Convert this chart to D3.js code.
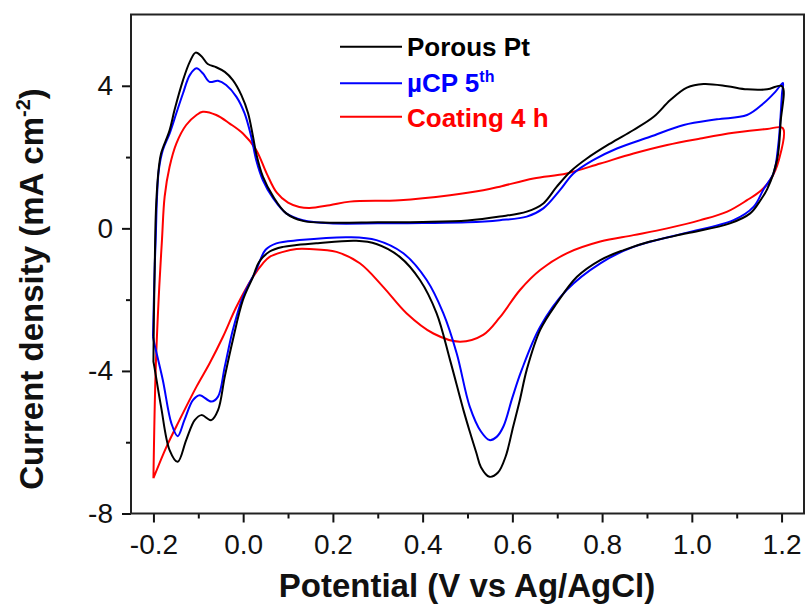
<!DOCTYPE html>
<html>
<head>
<meta charset="utf-8">
<script src="https://cdn.jsdelivr.net/npm/d3@7"></script>
<style>
  html, body { margin: 0; padding: 0; background: #fff; }
  svg { display: block; font-family: "Liberation Sans", Arial, sans-serif; }
</style>
</head>
<body>
<svg id="chart" width="807" height="615"></svg>
<script>
// ---------- DATA (Potential V vs Ag/AgCl, Current density mA cm^-2) ----------
const seriesNames = ["Porous Pt", "µCP 5th", "Coating 4 h"];
const seriesColors = ["#000000", "#0000ff", "#ff0000"];

const porousPt = [
  [-0.200,-3.74],[-0.199,-2.5],[-0.197,-1.0],[-0.195,0.3],[-0.192,1.1],[-0.188,1.7],[-0.183,2.10],
  [-0.164,2.75],[-0.153,3.32],[-0.134,4.16],[-0.119,4.67],[-0.106,4.93],[-0.093,4.83],[-0.079,4.61],
  [-0.060,4.52],[-0.041,4.39],[-0.023,4.16],[-0.004,3.74],[0.011,3.23],[0.022,2.57],[0.029,2.10],
  [0.044,1.45],[0.067,0.89],[0.096,0.42],[0.133,0.21],[0.193,0.16],[0.30,0.17],[0.40,0.18],
  [0.50,0.22],[0.572,0.33],[0.632,0.47],[0.669,0.70],[0.699,1.17],[0.729,1.59],[0.766,1.96],
  [0.818,2.38],[0.870,2.76],[0.915,3.13],[0.952,3.60],[0.989,3.95],[1.026,4.05],[1.079,3.99],
  [1.123,3.90],[1.168,3.90],[1.201,3.99],
  [1.198,3.0],[1.190,1.92],[1.168,1.10],[1.153,0.79],[1.130,0.42],[1.085,0.14],[0.989,-0.14],
  [0.907,-0.37],[0.848,-0.61],[0.796,-0.89],[0.744,-1.36],[0.699,-2.10],[0.662,-2.85],[0.632,-3.97],
  [0.617,-4.8],[0.602,-5.55],[0.585,-6.4],[0.568,-6.85],[0.549,-6.97],[0.530,-6.7],[0.520,-6.31],
  [0.505,-5.7],[0.491,-5.10],[0.461,-3.69],[0.431,-2.38],[0.394,-1.45],[0.349,-0.80],[0.297,-0.44],
  [0.252,-0.35],[0.163,-0.42],[0.119,-0.47],[0.089,-0.52],[0.059,-0.65],[0.035,-0.95],[0.022,-1.36],
  [-0.0005,-2.01],[-0.023,-3.13],[-0.041,-4.16],[-0.056,-5.10],[-0.071,-5.38],[-0.093,-5.24],
  [-0.108,-5.38],[-0.127,-5.94],[-0.146,-6.55],[-0.164,-6.22],[-0.183,-5.00],[-0.198,-3.88],[-0.200,-3.74]
];

const ucp5th = [
  [-0.201,-3.04],[-0.199,-2.0],[-0.197,-1.0],[-0.195,-0.33],[-0.192,0.89],[-0.188,1.64],[-0.179,2.20],
  [-0.164,2.66],[-0.149,3.23],[-0.134,3.79],[-0.119,4.30],[-0.104,4.49],[-0.090,4.35],[-0.075,4.11],
  [-0.056,4.14],[-0.038,4.02],[-0.015,3.69],[0.003,3.23],[0.018,2.57],[0.029,1.92],[0.044,1.35],
  [0.067,0.84],[0.096,0.42],[0.133,0.23],[0.193,0.14],[0.30,0.14],[0.40,0.15],[0.50,0.17],
  [0.572,0.23],[0.632,0.33],[0.669,0.56],[0.706,1.07],[0.736,1.54],[0.781,1.92],[0.833,2.24],
  [0.907,2.57],[0.982,2.90],[1.056,3.06],[1.123,3.18],[1.160,3.51],[1.186,3.83],[1.203,4.08],
  [1.201,3.79],[1.193,2.38],[1.182,1.54],[1.160,1.10],[1.138,0.61],[1.093,0.23],[0.982,-0.14],
  [0.870,-0.52],[0.796,-0.98],[0.721,-1.73],[0.662,-2.76],[0.620,-4.0],[0.600,-4.75],[0.580,-5.56],
  [0.565,-5.85],[0.549,-5.94],[0.530,-5.7],[0.505,-5.00],[0.476,-3.51],[0.446,-2.38],[0.409,-1.45],
  [0.357,-0.70],[0.297,-0.33],[0.238,-0.25],[0.126,-0.33],[0.074,-0.42],[0.050,-0.60],[0.029,-1.17],
  [-0.0005,-1.92],[-0.023,-2.85],[-0.041,-3.88],[-0.056,-4.72],[-0.071,-4.86],[-0.097,-4.68],
  [-0.112,-4.82],[-0.131,-5.38],[-0.146,-5.83],[-0.160,-5.47],[-0.179,-4.26],[-0.198,-3.23],[-0.201,-3.04]
];

const coating4h = [
  [-0.200,-7.01],[-0.195,-3.97],[-0.187,-1.64],[-0.181,-0.33],[-0.175,0.89],[-0.164,1.73],[-0.149,2.38],
  [-0.127,2.90],[-0.104,3.18],[-0.090,3.27],[-0.060,3.18],[-0.030,2.94],[-0.0005,2.66],[0.029,2.20],
  [0.052,1.55],[0.075,1.00],[0.100,0.72],[0.125,0.60],[0.148,0.57],[0.193,0.65],[0.238,0.75],
  [0.349,0.79],[0.461,0.93],[0.535,1.07],[0.572,1.17],[0.647,1.40],[0.721,1.54],[0.796,1.82],
  [0.870,2.10],[0.945,2.34],[1.019,2.52],[1.093,2.68],[1.168,2.79],[1.203,2.81],
  [1.194,1.92],[1.175,1.36],[1.153,1.05],[1.123,0.79],[1.079,0.47],[1.019,0.23],[0.945,0.0],
  [0.870,-0.19],[0.796,-0.37],[0.721,-0.70],[0.662,-1.17],[0.617,-1.73],[0.572,-2.50],[0.535,-2.99],
  [0.483,-3.18],[0.424,-2.95],[0.364,-2.38],[0.312,-1.64],[0.260,-0.98],[0.208,-0.66],[0.148,-0.58],
  [0.119,-0.58],[0.089,-0.66],[0.059,-0.80],[0.044,-0.98],[0.022,-1.36],[-0.015,-2.20],[-0.045,-3.04],
  [-0.075,-3.79],[-0.104,-4.44],[-0.142,-5.38],[-0.171,-6.13],[-0.200,-7.01]
];

const xTicks = [-0.2, 0.0, 0.2, 0.4, 0.6, 0.8, 1.0, 1.2];
const xMinorTicks = [-0.1, 0.1, 0.3, 0.5, 0.7, 0.9, 1.1];
const yTicks = [-8, -4, 0, 4];
const yMinorTicks = [-6, -2, 2];
const xDomain = [-0.25, 1.25];
const yDomain = [-8, 6];

// ---------- LAYOUT ----------
const svg = d3.select("#chart");
const plotLeft = 131, plotRight = 804, plotTop = 14.5, plotBottom = 513.5;

const x = d3.scaleLinear().domain(xDomain).range([plotLeft, plotRight]);
const y = d3.scaleLinear().domain(yDomain).range([plotBottom, plotTop]);

// curves
const line = d3.line()
  .x(d => x(d[0]))
  .y(d => y(d[1]))
  .curve(d3.curveCatmullRom.alpha(0.5));

const allSeries = [porousPt, ucp5th, coating4h];
[2, 1, 0].forEach(i => {
  svg.append("path")
    .datum(allSeries[i])
    .attr("d", line)
    .attr("fill", "none")
    .attr("stroke", seriesColors[i])
    .attr("stroke-width", 2)
    .attr("stroke-linejoin", "round");
});

// axes
const fmtX = d => d3.format(".1f")(d).replace("−", "-");
const xAxis = d3.axisBottom(x).tickValues(xTicks).tickFormat(fmtX)
  .tickSizeInner(9).tickSizeOuter(0).tickPadding(12);
const xAxisMinor = d3.axisBottom(x).tickValues(xMinorTicks).tickFormat("")
  .tickSizeInner(5).tickSizeOuter(0);
const yAxis = d3.axisLeft(y).tickValues(yTicks).tickFormat(d => String(d).replace("−", "-"))
  .tickSizeInner(9).tickSizeOuter(0).tickPadding(9);
const yAxisMinor = d3.axisLeft(y).tickValues(yMinorTicks).tickFormat("")
  .tickSizeInner(5).tickSizeOuter(0);

function styleAxis(g) {
  g.select(".domain").remove();
  g.selectAll(".tick line").attr("stroke", "#111").attr("stroke-width", 2);
  g.selectAll(".tick text").attr("fill", "#111")
    .style("font-size", "28px")
    .style("font-family", "'Liberation Sans', Arial, sans-serif");
}

svg.append("g").attr("transform", `translate(0,${plotBottom})`).call(xAxis).call(styleAxis);
svg.append("g").attr("transform", `translate(0,${plotBottom})`).call(xAxisMinor).call(styleAxis);
svg.append("g").attr("transform", `translate(${plotLeft},0)`).call(yAxis).call(styleAxis);
svg.append("g").attr("transform", `translate(${plotLeft},0)`).call(yAxisMinor).call(styleAxis);

// frame
svg.append("rect")
  .attr("x", plotLeft).attr("y", plotTop)
  .attr("width", plotRight - plotLeft).attr("height", plotBottom - plotTop)
  .attr("fill", "none").attr("stroke", "#222").attr("stroke-width", 2);

// axis titles
svg.append("text")
  .attr("x", 467).attr("y", 597)
  .attr("text-anchor", "middle")
  .style("font-weight", "bold").style("font-size", "33px")
  .attr("fill", "#111")
  .text("Potential (V vs Ag/AgCl)");

const yTitle = svg.append("text")
  .attr("transform", "translate(43,289) rotate(-90)")
  .attr("text-anchor", "middle")
  .style("font-weight", "bold").style("font-size", "33px")
  .attr("fill", "#111");
yTitle.append("tspan").text("Current density (mA cm");
yTitle.append("tspan").attr("dy", -13).style("font-size", "20px").text("-2");
yTitle.append("tspan").attr("dy", 13).text(")");

// legend
const legendY = [46.7, 83.3, 116.7];
const legendTextY = [55.5, 92, 126.5];
seriesNames.forEach((name, i) => {
  svg.append("line")
    .attr("x1", 340).attr("x2", 402)
    .attr("y1", legendY[i]).attr("y2", legendY[i])
    .attr("stroke", seriesColors[i]).attr("stroke-width", 2);
  const t = svg.append("text")
    .attr("x", 407).attr("y", legendTextY[i])
    .attr("fill", seriesColors[i])
    .style("font-weight", "bold").style("font-size", "26px");
  if (name === "µCP 5th") {
    t.append("tspan").text("µCP 5");
    t.append("tspan").attr("dy", -10).style("font-size", "16px").text("th");
  } else {
    t.text(name);
  }
});
</script>
</body>
</html>
